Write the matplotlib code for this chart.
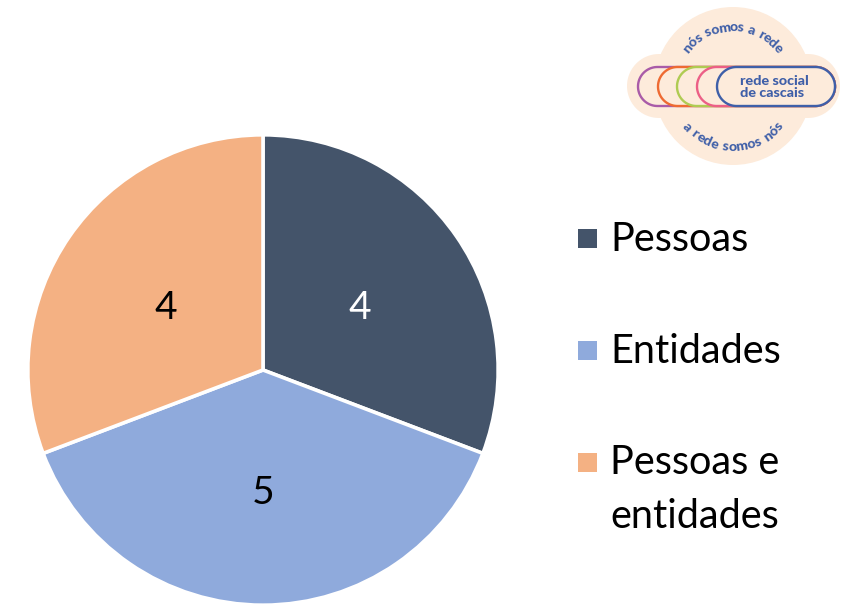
import numpy as np
import matplotlib
import matplotlib.pyplot as plt
from matplotlib.font_manager import FontProperties
from matplotlib.patches import Circle, Polygon, Rectangle
from matplotlib.textpath import TextPath

matplotlib.use("Agg", force=True)

categories = ["Pessoas", "Entidades", "Pessoas e\nentidades"]
values = [4, 5, 4]
colors = ["#44546A", "#8FAADC", "#F4B183"]
label_colors = ["white", "black", "black"]

W, H = 841, 604
CREAM = "#FDEBDB"
BLUE = "#3F5FA8"
FONT = "Lato"


def pill_points(left, right, top, bottom):
    r = (bottom - top) / 2
    a = np.radians(np.linspace(90, 270, 40))
    xs_l = left + r + r * np.cos(a)
    ys_l = top + r - r * np.sin(a)
    xs_r = right - r - r * np.cos(a)
    ys_r = top + r + r * np.sin(a)
    return np.column_stack([np.r_[xs_l, xs_r], np.r_[ys_l, ys_r]])


def arc_text(ax, text, cx, cy, radius, top=True, size=10.2, gap=0.7):
    # one text per letter, spaced along the circle by its real width
    fp = FontProperties(family=FONT, weight="black", size=size)
    px = 100 / 72
    widths = [(TextPath((0, 0), c, prop=fp).get_extents().width if c != " " else size * 0.28) * px + gap for c in text]
    total = sum(widths)
    pos = -total / 2
    for ch, w in zip(text, widths):
        mid = (pos + w / 2) / radius
        deg = 90 - np.degrees(mid) if top else 270 + np.degrees(mid)
        a = np.radians(deg)
        x = cx + radius * np.cos(a)
        y = cy - radius * np.sin(a)
        rot = deg - 90 if top else deg - 270
        ax.text(x, y, ch, rotation=rot, rotation_mode="anchor", ha="center", va="center", color=BLUE, fontproperties=fp)
        pos += w


def draw_logo(ax):
    cx, cy = 733, 86
    ax.add_patch(Circle((cx, cy), 79, fc=CREAM, ec="none"))
    ax.add_patch(Polygon(pill_points(627, 840, 54, 118), fc=CREAM, ec="none"))
    pills = [(638, "#A95BA8"), (658, "#EE6A32"), (677, "#AFCB52"), (697, "#EC5F86"), (717, BLUE)]
    for left, col in pills:
        ax.add_patch(Polygon(pill_points(left, 835, 67, 106), fc=CREAM, ec=col, lw=1.7))
    ax.text(740, 87, "rede social\nde cascais", color=BLUE, fontsize=10.4, fontweight="black", family=FONT,
            ha="left", va="center", multialignment="left", linespacing=0.95)
    arc_text(ax, "nós somos a rede", cx, cy, 59, top=True)
    arc_text(ax, "a rede somos nós", cx, cy, 61, top=False)


fig = plt.figure(figsize=(W / 100, H / 100), dpi=100)

pie_ax = fig.add_axes([(263 - 236) / W, 1 - (370 + 236) / H, 472 / W, 472 / H])
wedges, _, autotexts = pie_ax.pie(
    values,
    colors=colors,
    startangle=90,
    counterclock=False,
    radius=1.005,
    autopct=lambda p: f"{p * sum(values) / 100:.0f}",
    pctdistance=0.5,
    wedgeprops={"edgecolor": "white", "linewidth": 2.6},
    textprops={"fontsize": 28, "family": FONT},
)
for t, c in zip(autotexts, label_colors):
    t.set_color(c)
    x, y = t.get_position()
    t.set_position((x, y - 0.022))
pie_ax.set_xlim(-236 / 234, 236 / 234)
pie_ax.set_ylim(-236 / 234, 236 / 234)

# overlay in pixel coordinates for the legend and the logo
ov = fig.add_axes([0, 0, 1, 1])
ov.set_xlim(0, W)
ov.set_ylim(H, 0)
ov.axis("off")
ov.patch.set_alpha(0)

square_tops = [229, 341, 453]
baselines = [251, 363, 528]
for name, col, sq, base in zip(categories, colors, square_tops, baselines):
    ov.add_patch(Rectangle((578, sq), 19, 19, fc=col, ec="none"))
    ov.text(610, base, name, fontsize=28.5, family=FONT, color="black", va="baseline", ha="left", linespacing=1.57)

draw_logo(ov)

fig.savefig("out.png", dpi=100)
plt.close(fig)
